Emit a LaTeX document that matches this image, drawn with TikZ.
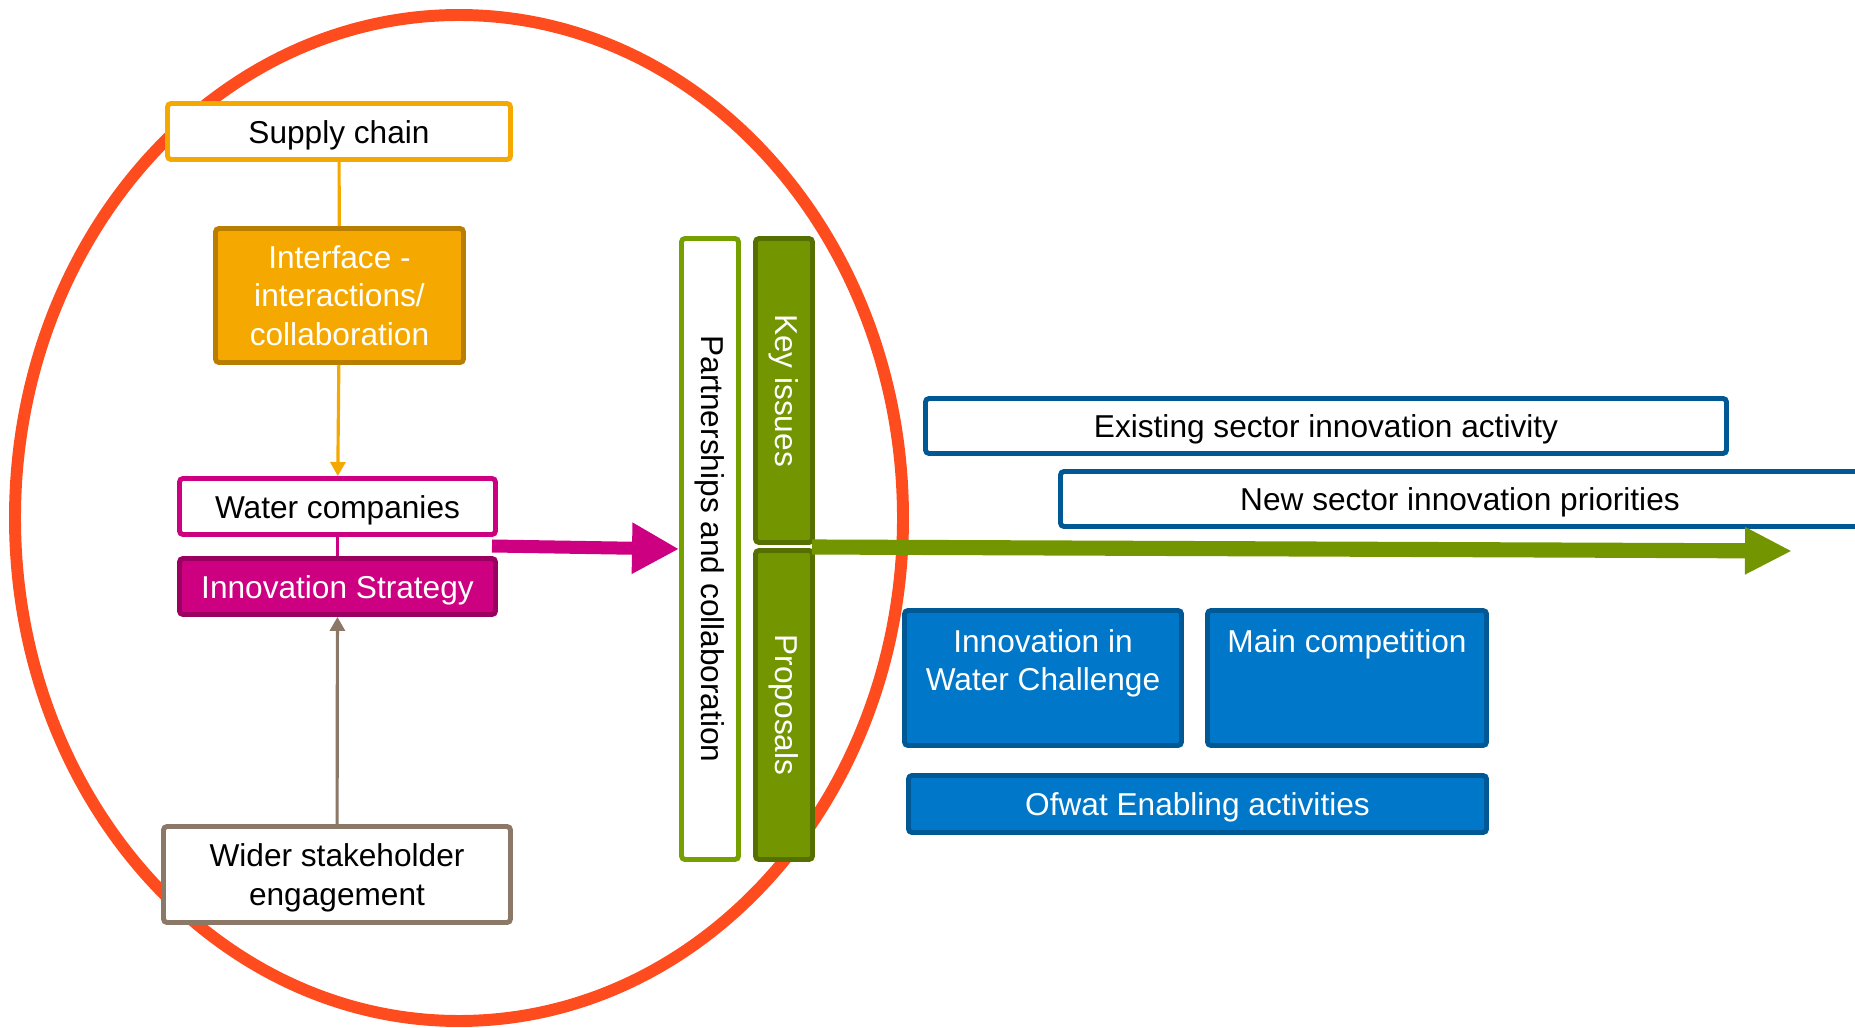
\documentclass[tikz,border=0pt]{standalone}
\usepackage{fontspec}
\setmainfont{Liberation Sans}
\usetikzlibrary{arrows.meta}

\definecolor{kreisrot}{RGB}{255,76,30}
\definecolor{gelb}{RGB}{245,168,0}
\definecolor{gelbdunkel}{RGB}{185,126,0}
\definecolor{wkmagenta}{RGB}{204,0,128}
\definecolor{wkmagentadunkel}{RGB}{154,0,96}
\definecolor{braungrau}{RGB}{139,120,102}
\definecolor{hellgruen}{RGB}{118,160,0}
\definecolor{gruen}{RGB}{115,150,0}
\definecolor{gruendunkel}{RGB}{85,112,0}
\definecolor{blau}{RGB}{0,119,200}
\definecolor{blaudunkel}{RGB}{0,88,148}

\begin{document}
\begin{tikzpicture}[font=\fontsize{9}{11}\selectfont,
  kasten/.style={draw, line width=1.4pt, rounded corners=1pt, inner sep=0pt, align=center},
  zeile/.style={text height=8.7pt, text depth=2pt},
  klein/.style={-{Triangle[length=1.4mm,width=1.5mm]}, line width=0.9pt},
  senkrecht/.style={kasten, rotate=-90, minimum height=0.57cm}]
\clip (0,0) rectangle (18.55,10.27);

% Kreis
\draw[kreisrot, line width=3.4pt] (4.59,5.09) ellipse [x radius=4.44, y radius=5.03];

% Knoten links
\node[kasten, zeile, draw=gelb, fill=white, minimum width=3.43cm, minimum height=0.56cm]
  (supply) at (3.39,8.955) {Supply chain};
\node[kasten, draw=gelbdunkel, fill=gelb, text=white, minimum width=2.48cm, minimum height=1.34cm]
  (interface) at (3.395,7.315) {Interface -\\interactions/\\collaboration};
\node[kasten, zeile, draw=wkmagenta, fill=white, minimum width=3.16cm, minimum height=0.56cm]
  (water) at (3.375,5.205) {Water companies};
\node[kasten, zeile, draw=wkmagentadunkel, fill=wkmagenta, text=white, minimum width=3.16cm, minimum height=0.56cm]
  (strategy) at (3.375,4.405) {Innovation Strategy};
\node[kasten, draw=braungrau, fill=white, minimum width=3.47cm, minimum height=0.96cm]
  (wider) at (3.37,1.525) {\rule{0pt}{8.6pt}Wider stakeholder\\engagement};

% senkrechte Balken
\node[senkrecht, draw=hellgruen, fill=white, minimum width=6.21cm]
  (partner) at (7.10,4.78) {Partnerships and collaboration};
\node[senkrecht, draw=gruendunkel, fill=gruen, text=white, minimum width=3.04cm]
  (keyiss) at (7.84,6.365) {Key issues};
\node[senkrecht, draw=gruendunkel, fill=gruen, text=white, minimum width=3.09cm]
  (proposals) at (7.84,3.22) {Proposals};

% Knoten rechts
\node[kasten, zeile, draw=blaudunkel, fill=white, minimum width=8.01cm, minimum height=0.55cm]
  (existing) at (13.26,6.01) {Existing sector innovation activity};
\node[kasten, zeile, draw=blaudunkel, fill=white, minimum width=7.99cm, minimum height=0.55cm]
  (newsec) at (14.60,5.28) {New sector innovation priorities};
\node[kasten, draw=blaudunkel, fill=blau, text=white, minimum width=2.77cm, minimum height=1.35cm]
  (iwc) at (10.43,3.49) {Innovation in\\Water Challenge\\[-4pt]\strut};
\node[kasten, draw=blaudunkel, fill=blau, text=white, minimum width=2.79cm, minimum height=1.35cm]
  (maincomp) at (13.47,3.49) {Main competition\\\strut\\[-4pt]\strut};
\node[kasten, zeile, draw=blaudunkel, fill=blau, text=white, minimum width=5.78cm, minimum height=0.57cm]
  (ofwat) at (11.975,2.23) {Ofwat Enabling activities};

% Verbindungen
\draw[gelb, line width=0.9pt] (supply) -- (interface);
\draw[gelb, klein] (interface) -- (water);
\draw[wkmagenta, line width=0.9pt] (water) -- (strategy);
\draw[braungrau, klein] (wider) -- (strategy);

% dicke Pfeile
\coordinate (mstart) at (4.92,4.81);
\coordinate (gstart) at (8.12,4.80);
\coordinate (gend)   at (17.92,4.76);
\draw[wkmagenta, line width=3.7pt, -{Triangle[length=4.7mm,width=4.8mm]}]
  (mstart) -- (partner.south);
\draw[gruen, line width=4.3pt, -{Triangle[length=4.7mm,width=4.4mm]}]
  (gstart) -- (gend);

\end{tikzpicture}
\end{document}
